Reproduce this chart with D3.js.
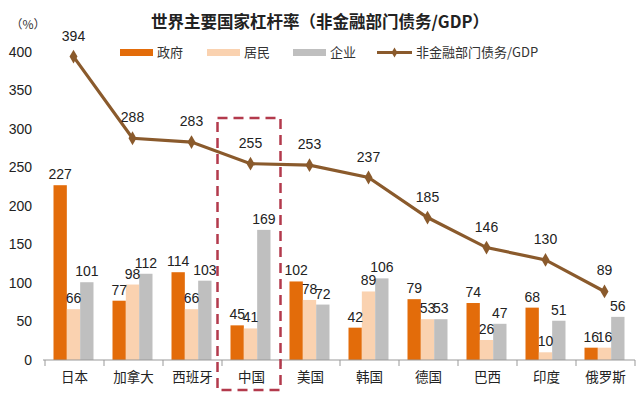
<!DOCTYPE html>
<html><head><meta charset="utf-8">
<script src="https://cdn.jsdelivr.net/npm/d3@7"></script>
<style>body{margin:0;background:#fff}svg{display:block}</style>
</head><body>
<script>
const categories = ["日本","加拿大","西班牙","中国","美国","韩国","德国","巴西","印度","俄罗斯"];
const gov = [227,77,114,45,102,42,79,74,68,16];
const household = [66,98,66,41,78,89,53,26,10,16];
const corporate = [101,112,103,169,72,106,53,47,51,56];
const total = [394,288,283,255,253,237,185,146,130,89];
const seriesNames = ["政府","居民","企业"];
const lineName = "非金融部门债务/GDP";
const yTicks = [0,50,100,150,200,250,300,350,400];
const colors = ["#E36C0A","#FAD2B0","#BFBFBF"];
const lineColor = "#8A5A2C";

const W=640,H=395;
const svg = d3.select("body").append("svg").attr("width",W).attr("height",H);
const x = d3.scaleBand().domain(categories).range([45,635]);
const xs = d3.scaleBand().domain(seriesNames).range([8.5,48.5]);
const y = d3.scaleLinear().domain([0,400]).range([360,52]);
const num = "Arial, 'Liberation Sans', sans-serif";
const cjk = "'Noto Sans CJK SC', sans-serif";

// title
svg.append("text").attr("x",320).attr("y",28).attr("text-anchor","middle")
  .attr("font-family",cjk).attr("font-weight","bold").attr("font-size",16.5).attr("fill","#222")
  .text("世界主要国家杠杆率（非金融部门债务/GDP）");
svg.append("text").attr("x",28).attr("y",29).attr("text-anchor","middle")
  .attr("font-family",cjk).attr("font-size",12).attr("fill","#333").text("（%）");

// y axis labels
const ya = svg.append("g").attr("transform","translate(32,0)")
  .call(d3.axisLeft(y).tickValues(yTicks).tickSize(0).tickPadding(0));
ya.select(".domain").remove();
ya.selectAll("text").attr("font-family",num).attr("font-size",14).attr("fill","#222");

// bars
const data = categories.map((c,i)=>({c, vals:[gov[i],household[i],corporate[i]]}));
const g = svg.append("g");
const grp = g.selectAll("g").data(data).join("g").attr("transform",d=>`translate(${x(d.c)},0)`);
grp.selectAll("rect").data(d=>d.vals.map((v,j)=>({v,s:seriesNames[j],j}))).join("rect")
  .attr("x",d=>xs(d.s)).attr("width",xs.bandwidth())
  .attr("y",d=>y(d.v)).attr("height",d=>y(0)-y(d.v)).attr("fill",d=>colors[d.j]);
grp.selectAll("text").data(d=>d.vals.map((v,j)=>({v,s:seriesNames[j],j}))).join("text")
  .attr("x",d=>xs(d.s)+xs.bandwidth()/2).attr("y",d=>y(d.v)-6).attr("text-anchor","middle")
  .attr("font-family",num).attr("font-size",14).attr("fill","#222").text(d=>d.v);

// x axis
const xa = svg.append("g").attr("transform","translate(0,360)")
  .call(d3.axisBottom(x).tickSize(0).tickPadding(12));
xa.select(".domain").attr("stroke","#999").attr("d","M43,0H635");
xa.selectAll("text").attr("font-family",cjk).attr("font-size",13.5).attr("fill","#222");
svg.append("g").selectAll("line").data(categories.concat(["end"])).join("line")
  .attr("x1",(d,i)=>45+i*x.step()).attr("x2",(d,i)=>45+i*x.step())
  .attr("y1",360).attr("y2",366).attr("stroke","#999");

// line
const pts = categories.map((c,i)=>[x(c)+x.bandwidth()/2-1,y(total[i])]);
svg.append("path").attr("d",d3.line()(pts)).attr("fill","none")
  .attr("stroke",lineColor).attr("stroke-width",3.2);
svg.append("g").selectAll("path").data(pts).join("path")
  .attr("d",d3.symbol(d3.symbolDiamond,55)).attr("transform",d=>`translate(${d[0]},${d[1]})`)
  .attr("fill",lineColor);
svg.append("g").selectAll("text").data(total).join("text")
  .attr("x",(d,i)=>pts[i][0]).attr("y",(d,i)=>pts[i][1]-16).attr("text-anchor","middle")
  .attr("font-family",num).attr("font-size",14).attr("fill","#222").text(d=>d);

// dashed box
svg.append("rect").attr("x",217.5).attr("y",118).attr("width",63).attr("height",272)
  .attr("fill","none").attr("stroke","#B33A4C").attr("stroke-width",2.5).attr("stroke-dasharray","10,6");

// legend
const lg = svg.append("g");
const lx = [120,207,293];
seriesNames.forEach((s,i)=>{
  lg.append("rect").attr("x",lx[i]).attr("y",49).attr("width",33).attr("height",7).attr("fill",colors[i]);
  lg.append("text").attr("x",lx[i]+37).attr("y",57).attr("font-family",cjk).attr("font-size",13)
    .attr("fill","#333").text(s);
});
lg.append("line").attr("x1",377).attr("x2",412).attr("y1",52.5).attr("y2",52.5)
  .attr("stroke",lineColor).attr("stroke-width",3.2);
lg.append("path").attr("d",d3.symbol(d3.symbolDiamond,30)).attr("transform","translate(394.5,52.5)").attr("fill",lineColor);
lg.append("text").attr("x",416).attr("y",57).attr("font-family",cjk).attr("font-size",13)
  .attr("fill","#333").text(lineName);
</script>
</body></html>
